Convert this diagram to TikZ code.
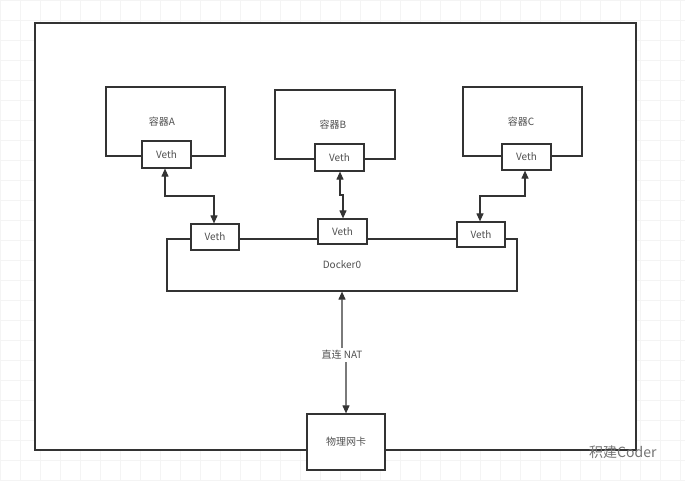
\documentclass[tikz,border=0pt]{standalone}
\usepackage{fontspec}
\setmainfont{Noto Sans CJK SC}
\usetikzlibrary{arrows.meta}
\definecolor{txt}{HTML}{505050}
\definecolor{ln}{HTML}{333333}
\definecolor{gridc}{HTML}{F4F4F4}
\begin{document}
\begin{tikzpicture}[x=1pt,y=-1pt,
  box/.style={draw=ln,line width=1.2pt,fill=white,inner sep=0pt,font=\fontsize{10}{11}\selectfont,text=txt},
  link/.style={draw=ln,line width=1.1pt,{Triangle[length=8pt,width=7pt]}-{Triangle[length=8pt,width=7pt]}},
  lbl/.style={font=\fontsize{10}{11}\selectfont,text=txt}]
\useasboundingbox (0,0) rectangle (685,481);
\fill[white] (0,0) rectangle (685,481);
\foreach \gx in {0,20,...,680} {\draw[gridc,line width=0.6pt] (\gx,0) -- (\gx,481);}
\foreach \gy in {0,20,...,480} {\draw[gridc,line width=0.6pt] (0,\gy) -- (685,\gy);}
% outer frame
\draw[ln,line width=1.8pt,fill=white] (35,23) rectangle (636,450);
% containers
\node[box,minimum width=119pt,minimum height=69pt] (ca) at (165.5,121.5) {};
\node[lbl] at (162,122) {容器A};
\node[box,minimum width=120pt,minimum height=69pt] (cb) at (335,124.5) {};
\node[lbl] at (333,125) {容器B};
\node[box,minimum width=119pt,minimum height=69pt] (cc) at (522.5,121.5) {};
\node[lbl] at (521,122) {容器C};
% container veths
\node[box,minimum width=49pt,minimum height=27pt] (va) at (166.5,154.5) {Veth};
\node[box,minimum width=49pt,minimum height=27pt] (vb) at (339.5,157.5) {Veth};
\node[box,minimum width=49pt,minimum height=26pt] (vc) at (526.5,157) {Veth};
% docker0
\node[box,minimum width=350pt,minimum height=52pt] (d0) at (342,265) {};
\node[lbl] at (342,265) {Docker0};
\node[box,minimum width=48pt,minimum height=26pt] (da) at (215,237) {Veth};
\node[box,minimum width=49pt,minimum height=25pt] (db) at (342.5,231.5) {Veth};
\node[box,minimum width=48pt,minimum height=25pt] (dc) at (481,234.5) {Veth};
% physical NIC
\node[box,minimum width=78pt,minimum height=56pt] (nic) at (346,442) {物理网卡};
% links
\coordinate (a1) at (165,196);
\coordinate (a2) at (214,196);
\draw[link] (va.south -| a1) -- (a1) -- (a2) -- (da.north -| a2);
\coordinate (b1) at (340,195);
\coordinate (b2) at (343,195);
\draw[link] (vb.south -| b1) -- (b1) -- (b2) -- (db.north -| b2);
\coordinate (c1) at (525,196);
\coordinate (c2) at (480,196);
\draw[link] (vc.south -| c1) -- (c1) -- (c2) -- (dc.north -| c2);
\draw[link] (d0.south) -- (342,355) -- (346,360) -- (nic.north);
\node[lbl,fill=white,inner sep=2pt] (nat) at (342,355) {直连 NAT};
% watermark
\node[font=\fontsize{14}{15}\selectfont,text=black!55,anchor=west,inner sep=0pt] (wm) at (589,452) {积建Coder};
\end{tikzpicture}
\end{document}
